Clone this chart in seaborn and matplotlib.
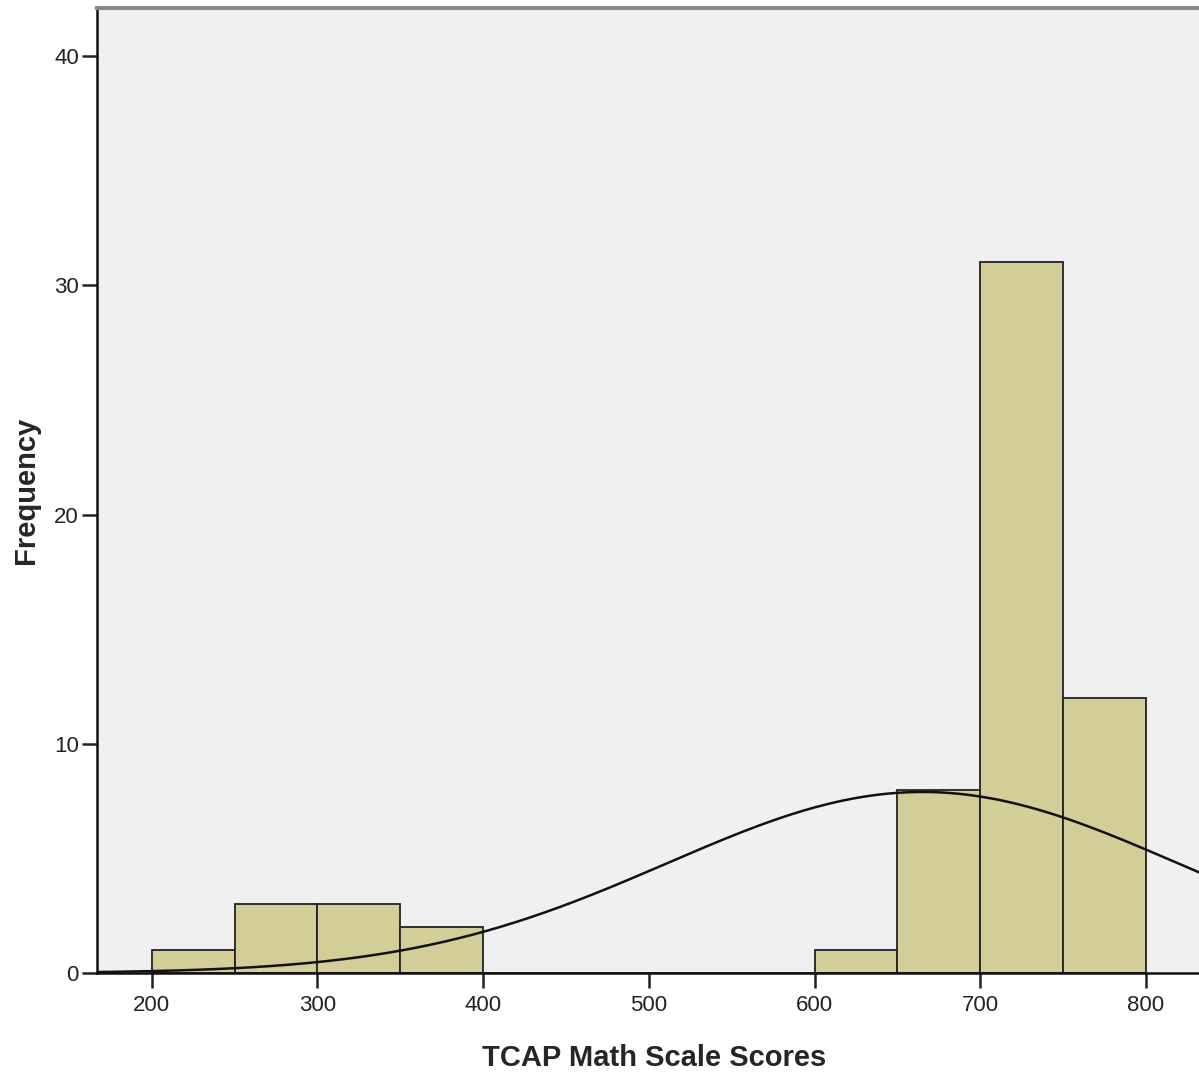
import matplotlib
matplotlib.use("Agg")
import matplotlib.pyplot as plt
import seaborn as sns
import numpy as np
import pandas as pd

# bins (width 50)
bin_edges = [200, 250, 300, 350, 400, 450, 500, 550, 600, 650, 700, 750, 800]
counts = [1, 3, 3, 2, 0, 0, 0, 0, 1, 8, 31, 12]
x_ticks = [200, 300, 400, 500, 600, 700, 800]
y_ticks = [0, 10, 20, 30, 40]

sns.set_style("white")
plt.rcParams['font.family'] = ['Liberation Sans', 'DejaVu Sans']

centers = [(a + b) / 2 for a, b in zip(bin_edges[:-1], bin_edges[1:])]
df = pd.DataFrame({"score": centers, "n": counts})

fig = plt.figure(figsize=(11.99, 10.76), dpi=100)
ax = fig.add_axes([97 / 1199, 103 / 1076, 1.0 - 97 / 1199 + 0.01, (973 - 8) / 1076])
ax.set_facecolor("#f0f0f0")

sns.histplot(data=df, x="score", weights="n", bins=bin_edges, ax=ax,
             color="#d3ce97", alpha=1, edgecolor="#222222", linewidth=1.3)

# normal curve fitted to the binned data
c = np.array(centers)
n = np.array(counts)
mu = (c * n).sum() / n.sum()
sd = np.sqrt(((c - mu) ** 2 * n).sum() / (n.sum() - 1))
xs = np.linspace(150, 850, 400)
ys = n.sum() * 50 / (sd * np.sqrt(2 * np.pi)) * np.exp(-0.5 * ((xs - mu) / sd) ** 2)
sns.lineplot(x=xs, y=ys, ax=ax, color="#111111", linewidth=1.8)

ax.set_xlim(167, 832 + 0.01 * 1199 / 1.65)
ax.set_ylim(0, 42.1)
ax.set_xticks(x_ticks)
ax.set_yticks(y_ticks)
ax.tick_params(axis="both", direction="out", length=11, width=1.8, color="#222222",
               labelsize=16, labelcolor="#222222", bottom=True, left=True)
ax.tick_params(axis="x", pad=5)
ax.tick_params(axis="y", pad=2)

for s in ["left", "bottom"]:
    ax.spines[s].set_color("#111111")
    ax.spines[s].set_linewidth(1.8)
ax.spines["top"].set_color("#888888")
ax.spines["top"].set_linewidth(3)
ax.spines["right"].set_visible(False)

ax.set_xlabel("TCAP Math Scale Scores", fontsize=21, fontweight="bold", labelpad=20)
ax.set_ylabel("Frequency", fontsize=21, fontweight="bold", labelpad=10)

fig.savefig("out.png", dpi=100)
